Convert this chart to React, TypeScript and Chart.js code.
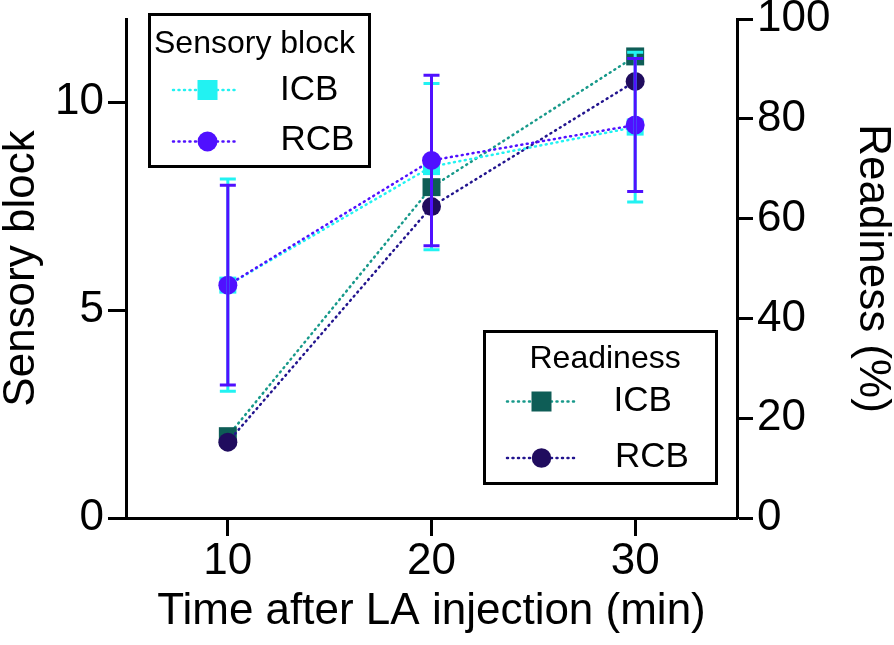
import React, { useEffect, useRef } from 'react';
import { Chart, registerables } from 'chart.js';

Chart.register(...registerables);

// ---- data ----
const xValues = [10, 20, 30];
const xTickValues = [10, 20, 30];
const leftTickValues = [0, 5, 10];
const rightTickValues = [0, 20, 40, 60, 80, 100];

const sensoryICB = [5.6, 8.45, 9.4];
const sensoryICBErr = [2.55, 2.0, 1.8];
const sensoryRCB = [5.6, 8.6, 9.45];
const sensoryRCBErr = [2.4, 2.05, 1.6];
const readinessICB = [16.4, 66.3, 92.5];
const readinessRCB = [15.2, 62.4, 87.5];

const xTitle = 'Time after LA injection (min)';
const leftTitle = 'Sensory block';
const rightTitle = 'Readiness (%)';
const legend1Title = 'Sensory block';
const legend2Title = 'Readiness';
const seriesNames = ['ICB', 'RCB'];

// ---- styles ----
const FONT = '"Liberation Sans", Arial, sans-serif';
const CYAN = '#22F2F2';
const PURPLE = '#5010FF';
const TEAL_MARK = '#0E5D56';
const TEAL_LINE = '#17998A';
const NAVY_MARK = '#200C5E';
const NAVY_LINE = '#22148E';

const toPts = (ys: number[]) => xValues.map((x, i) => ({ x, y: ys[i] }));

const errorBarPlugin = {
  id: 'errorBars',
  afterDatasetsDraw(chart: any) {
    const { ctx } = chart;
    const xs = chart.scales.x;
    const ys = chart.scales.ySens;
    const series = [
      { vals: sensoryICB, errs: sensoryICBErr, color: CYAN },
      { vals: sensoryRCB, errs: sensoryRCBErr, color: PURPLE },
    ];
    ctx.save();
    ctx.lineWidth = 3;
    ctx.lineCap = 'butt';
    for (const s of series) {
      ctx.strokeStyle = s.color;
      s.vals.forEach((v, i) => {
        const px = xs.getPixelForValue(xValues[i]);
        const top = ys.getPixelForValue(v + s.errs[i]);
        const bot = ys.getPixelForValue(v - s.errs[i]);
        ctx.beginPath();
        ctx.moveTo(px, top);
        ctx.lineTo(px, bot);
        ctx.moveTo(px - 8, top);
        ctx.lineTo(px + 8, top);
        ctx.moveTo(px - 8, bot);
        ctx.lineTo(px + 8, bot);
        ctx.stroke();
      });
    }
    ctx.restore();
  },
};

function drawLegendRow(ctx: CanvasRenderingContext2D, x0: number, x1: number, mx: number, y: number, lineColor: string, markColor: string, shape: 'rect' | 'circle', size: number) {
  ctx.save();
  ctx.strokeStyle = lineColor;
  ctx.lineWidth = 2.5;
  ctx.lineCap = 'round';
  ctx.setLineDash([1, 4.5]);
  ctx.beginPath();
  ctx.moveTo(x0, y);
  ctx.lineTo(x1, y);
  ctx.stroke();
  ctx.setLineDash([]);
  ctx.fillStyle = markColor;
  if (shape === 'rect') {
    ctx.fillRect(mx - size / 2, y - size / 2, size, size);
  } else {
    ctx.beginPath();
    ctx.arc(mx, y, size / 2, 0, Math.PI * 2);
    ctx.fill();
  }
  ctx.restore();
}

const legendPlugin = {
  id: 'customLegends',
  afterDraw(chart: any) {
    const ctx: CanvasRenderingContext2D = chart.ctx;
    ctx.save();
    // box 1
    ctx.fillStyle = '#fff';
    ctx.fillRect(149.5, 14.5, 220, 152);
    ctx.strokeStyle = '#000';
    ctx.lineWidth = 3;
    ctx.strokeRect(149.5, 14.5, 220, 152);
    ctx.fillStyle = '#000';
    ctx.textBaseline = 'middle';
    ctx.textAlign = 'left';
    ctx.font = `32px ${FONT}`;
    ctx.fillText(legend1Title, 154, 44);
    ctx.font = `35px ${FONT}`;
    ctx.fillText(seriesNames[0], 280, 90);
    ctx.fillText(seriesNames[1], 280.5, 140);
    drawLegendRow(ctx, 173, 239, 207.5, 90, CYAN, CYAN, 'rect', 20);
    drawLegendRow(ctx, 173, 239, 207.5, 141.5, PURPLE, PURPLE, 'circle', 20);

    // box 2
    ctx.fillStyle = '#fff';
    ctx.fillRect(484.5, 331.5, 232, 152);
    ctx.strokeStyle = '#000';
    ctx.lineWidth = 3;
    ctx.strokeRect(484.5, 331.5, 232, 152);
    ctx.fillStyle = '#000';
    ctx.font = `32px ${FONT}`;
    ctx.fillText(legend2Title, 529.5, 359);
    ctx.font = `35px ${FONT}`;
    ctx.fillText(seriesNames[0], 613.5, 401);
    ctx.fillText(seriesNames[1], 615, 457);
    drawLegendRow(ctx, 507, 574, 541.5, 401.5, TEAL_LINE, TEAL_MARK, 'rect', 20);
    drawLegendRow(ctx, 507, 574, 541.5, 458, NAVY_LINE, NAVY_MARK, 'circle', 19.5);
    ctx.restore();
  },
};

const lineCommon = {
  type: 'line' as const,
  borderWidth: 2.5,
  borderDash: [1, 4.5],
  borderCapStyle: 'round' as const,
  pointBorderWidth: 0,
  fill: false,
  tension: 0,
};

export default function App() {
  const ref = useRef<HTMLCanvasElement | null>(null);

  useEffect(() => {
    if (!ref.current) return;
    const chart = new Chart(ref.current, {
      type: 'line',
      data: {
        datasets: [
          {
            ...lineCommon,
            label: 'Sensory RCB',
            data: toPts(sensoryRCB),
            yAxisID: 'ySens',
            borderColor: PURPLE,
            pointBackgroundColor: PURPLE,
            pointStyle: 'circle',
            pointRadius: 9.5,
            order: 0,
          },
          {
            ...lineCommon,
            label: 'Sensory ICB',
            data: toPts(sensoryICB),
            yAxisID: 'ySens',
            borderColor: CYAN,
            pointBackgroundColor: CYAN,
            pointStyle: 'rect',
            pointRadius: 12,
            order: 1,
          },
          {
            ...lineCommon,
            label: 'Readiness RCB',
            data: toPts(readinessRCB),
            yAxisID: 'yReady',
            borderColor: NAVY_LINE,
            pointBackgroundColor: NAVY_MARK,
            pointStyle: 'circle',
            pointRadius: 9.5,
            order: 2,
          },
          {
            ...lineCommon,
            label: 'Readiness ICB',
            data: toPts(readinessICB),
            yAxisID: 'yReady',
            borderColor: TEAL_LINE,
            pointBackgroundColor: TEAL_MARK,
            pointStyle: 'rect',
            pointRadius: 12.7,
            order: 3,
          },
        ],
      },
      options: {
        responsive: false,
        animation: false,
        devicePixelRatio: 1,
        events: [],
        layout: { padding: { top: 19, left: 0, right: 0, bottom: 0 } },
        plugins: {
          legend: { display: false },
          tooltip: { enabled: false },
        },
        scales: {
          x: {
            type: 'linear',
            position: 'bottom',
            min: 5,
            max: 35,
            afterBuildTicks: (s: any) => {
              s.ticks = xTickValues.map((v) => ({ value: v }));
            },
            afterFit: (s: any) => {
              s.height = 127;
              s.paddingLeft = 0;
              s.paddingRight = 0;
            },
            grid: {
              drawOnChartArea: false,
              drawTicks: true,
              tickLength: 18,
              tickWidth: 3,
              tickColor: '#000',
            },
            border: { display: true, color: '#000', width: 3 },
            ticks: {
              color: '#000',
              font: { family: FONT, size: 44, lineHeight: 1 },
              padding: 4,
              maxRotation: 0,
              autoSkip: false,
            },
            title: {
              display: true,
              text: xTitle,
              color: '#000',
              font: { family: FONT, size: 44, lineHeight: 1 },
              padding: { top: 0, bottom: 11 },
            },
          },
          ySens: {
            type: 'linear',
            position: 'left',
            min: 0,
            max: 12,
            afterBuildTicks: (s: any) => {
              s.ticks = leftTickValues.map((v) => ({ value: v }));
            },
            afterFit: (s: any) => {
              s.width = 126;
              s.paddingTop = 0;
              s.paddingBottom = 0;
            },
            grid: {
              drawOnChartArea: false,
              drawTicks: true,
              tickLength: 18,
              tickWidth: 3,
              tickColor: '#000',
            },
            border: { display: true, color: '#000', width: 3 },
            ticks: {
              color: '#000',
              font: { family: FONT, size: 44, lineHeight: 1 },
              padding: 4,
            },
            title: {
              display: true,
              text: leftTitle,
              color: '#000',
              font: { family: FONT, size: 44, lineHeight: 1 },
              padding: { top: 0, bottom: 0 },
            },
          },
          yReady: {
            type: 'linear',
            position: 'right',
            min: 0,
            max: 100,
            afterBuildTicks: (s: any) => {
              s.ticks = rightTickValues.map((v) => ({ value: v }));
            },
            afterFit: (s: any) => {
              s.width = 157;
              s.paddingTop = 0;
              s.paddingBottom = 0;
            },
            grid: {
              drawOnChartArea: false,
              drawTicks: true,
              tickLength: 16,
              tickWidth: 3,
              tickColor: '#000',
            },
            border: { display: true, color: '#000', width: 3 },
            ticks: {
              color: '#000',
              font: { family: FONT, size: 44, lineHeight: 1 },
              padding: 4,
            },
            title: {
              display: true,
              text: rightTitle,
              color: '#000',
              font: { family: FONT, size: 44, lineHeight: 1 },
              padding: { top: 0, bottom: 0 },
            },
          },
        },
      } as any,
      plugins: [errorBarPlugin, legendPlugin],
    });
    return () => chart.destroy();
  }, []);

  return (
    <div style={{ position: 'fixed', left: 0, top: 0, width: 894, height: 645, background: '#fff' }}>
      <canvas ref={ref} width={894} height={645} style={{ width: 894, height: 645, display: 'block' }} />
    </div>
  );
}
